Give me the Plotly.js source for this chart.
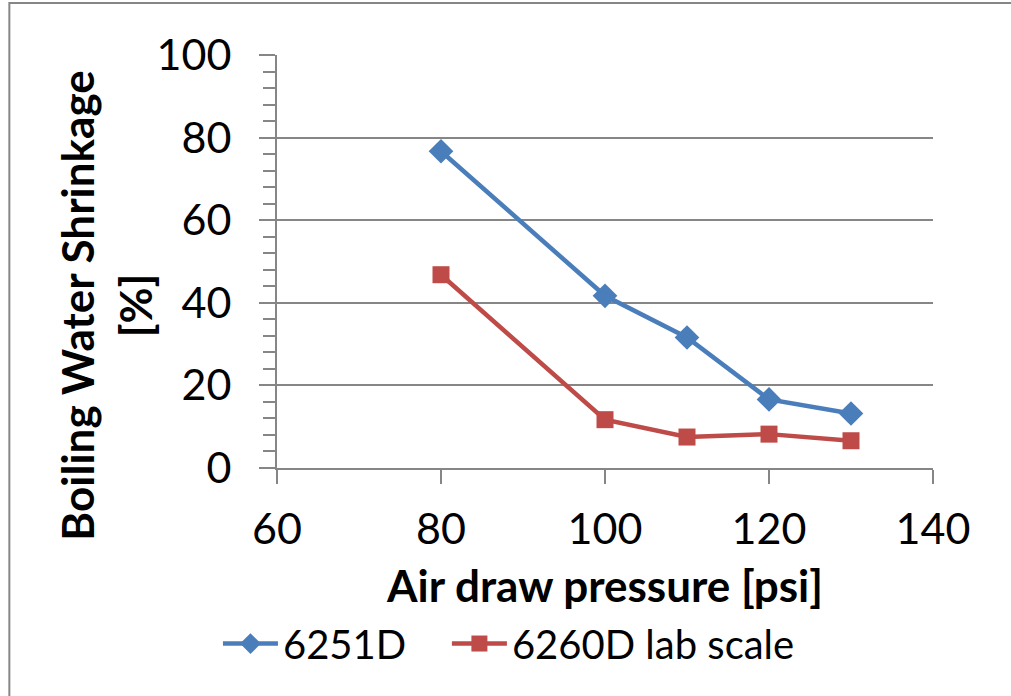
<!DOCTYPE html>
<html>
<head>
<meta charset="utf-8">
<script src="https://cdn.plot.ly/plotly-3.0.1.min.js"></script>
<style>html,body{margin:0;padding:0;background:#fff;}#chart{width:1011px;height:696px;}</style>
</head>
<body>
<div id="chart"></div>
<script>
const pressure = [80, 100, 110, 120, 130];
const series6251D = [76.7, 41.7, 31.6, 16.6, 13.2];
const series6260D = [46.8, 11.7, 7.5, 8.2, 6.6];
const seriesNames = ['6251D', '6260D lab scale'];
const xTitle = 'Air draw pressure [psi]';
const yTitle = 'Boiling Water Shrinkage<br>[%]';
const xTicks = [60, 80, 100, 120, 140];
const yTicks = [0, 20, 40, 60, 80, 100];

const FONT = 'Lato, "Open Sans", sans-serif';
const GRID = '#868686';

const traces = [
  {x: pressure, y: series6251D, name: seriesNames[0], mode: 'lines+markers', legend: 'legend',
   line: {color: '#4A7EBB', width: 4.5},
   marker: {symbol: 'diamond', size: 19, color: '#4A7EBB'}},
  {x: pressure, y: series6260D, name: seriesNames[1], mode: 'lines+markers', legend: 'legend2',
   line: {color: '#BE4B48', width: 4.5},
   marker: {symbol: 'square', size: 17, color: '#BE4B48'}}
];

const legendCommon = {orientation: 'h', yanchor: 'middle', y: -0.425, xanchor: 'left',
  font: {family: FONT, size: 40, color: '#000'}, itemwidth: 55, bgcolor: 'rgba(0,0,0,0)'};

const layout = {
  width: 1011, height: 696,
  margin: {l: 277, r: 78, t: 55, b: 228, autoexpand: false},
  paper_bgcolor: '#fff', plot_bgcolor: '#fff',
  font: {family: FONT, color: '#000', size: 43},
  showlegend: true,
  legend: Object.assign({}, legendCommon, {x: -0.09}),
  legend2: Object.assign({}, legendCommon, {x: 0.259}),
  xaxis: {
    range: [60, 140], tickvals: xTicks, tickmode: 'array',
    showgrid: false, zeroline: false, showline: true, linecolor: GRID, linewidth: 2,
    ticks: 'outside', ticklen: 14, tickwidth: 2, tickcolor: GRID,
    tickfont: {family: FONT, size: 43, color: '#000'},
    ticklabelstandoff: 8,
    title: {text: xTitle, font: {family: FONT, size: 44, color: '#000', weight: 'bold'}, standoff: 20},
    automargin: false, fixedrange: true
  },
  yaxis: {
    range: [0, 100], tickvals: yTicks, tickmode: 'array',
    showgrid: true, gridcolor: GRID, gridwidth: 2, zeroline: false,
    showline: true, linecolor: GRID, linewidth: 2,
    ticks: 'outside', ticklen: 16, tickwidth: 2, tickcolor: GRID,
    minor: {dtick: 4, ticks: 'outside', ticklen: 12, tickwidth: 2, tickcolor: GRID, showgrid: false},
    tickfont: {family: FONT, size: 43, color: '#000'},
    ticklabelstandoff: 19,
    automargin: false, fixedrange: true
  },
  annotations: [
    {text: yTitle, xref: 'paper', yref: 'paper', x: -0.2614, y: 0.392,
     xanchor: 'center', yanchor: 'middle', textangle: -90, showarrow: false,
     font: {family: FONT, size: 44, color: '#000', weight: 'bold'}}
  ],
  shapes: [
    {type: 'rect', xref: 'paper', yref: 'paper', x0: -0.408, x1: 2, y0: -2, y1: 1.126,
     line: {color: GRID, width: 2}, fillcolor: 'rgba(0,0,0,0)', layer: 'below'}
  ]
};

Plotly.newPlot('chart', traces, layout, {displayModeBar: false, staticPlot: true});
</script>
</body>
</html>
